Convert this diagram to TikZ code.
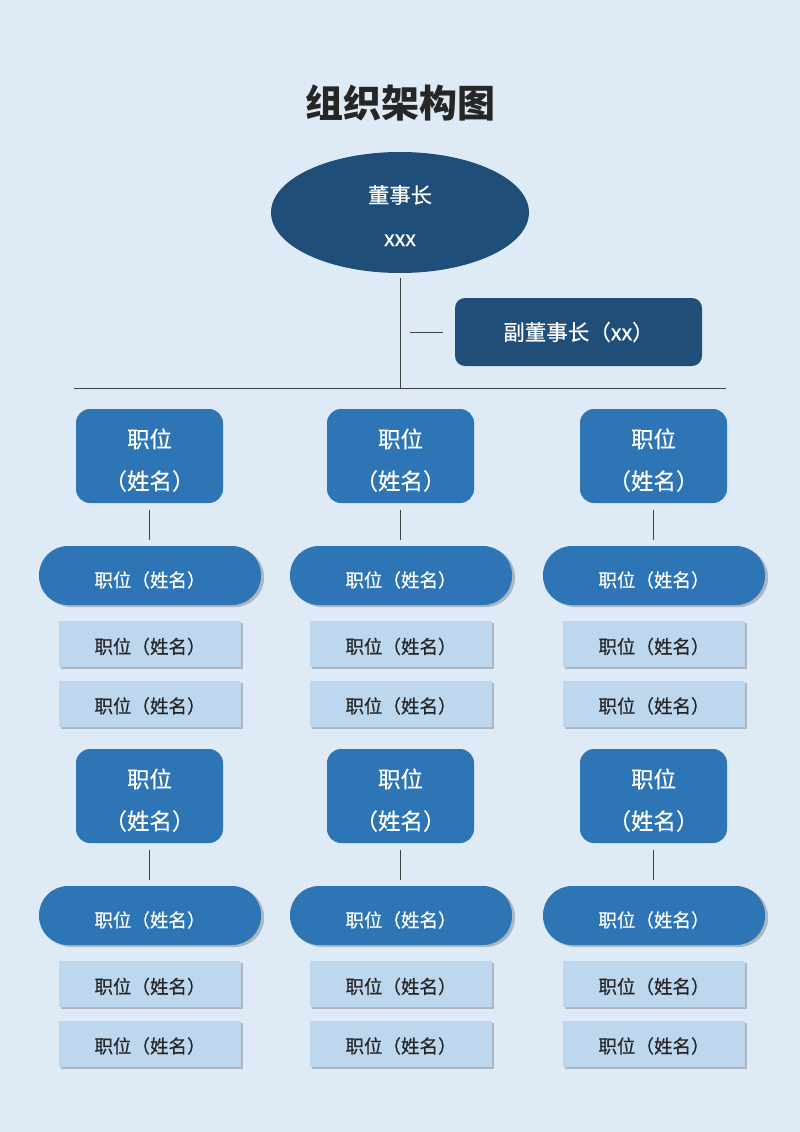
\documentclass[tikz,border=0pt]{standalone}
\usepackage{fontspec}
\setmainfont{Noto Sans CJK SC}
\newfontfamily\medfont[FakeBold=0.5]{Noto Sans CJK SC}
\usetikzlibrary{shapes.geometric,shadows}
\definecolor{bgc}{HTML}{DEEBF7}
\definecolor{navy}{HTML}{1F4E79}
\definecolor{midblue}{HTML}{2E75B6}
\definecolor{lightbox}{HTML}{BDD7EE}
\definecolor{linec}{HTML}{404040}
\definecolor{titlec}{HTML}{262626}
\newcommand{\twoline}[3]{\raisebox{#1}[0pt][0pt]{\begin{tabular}[t]{@{}c@{}}#2\\#3\end{tabular}}}
\begin{document}
\begin{tikzpicture}[x=1pt,y=-1pt,
  conn/.style={draw=linec,line width=0.9pt},
  chairbox/.style={ellipse,fill=navy,text=white,minimum width=258pt,minimum height=121pt,inner sep=0pt,font=\medfont\fontsize{21.3}{43}\selectfont},
  vicebox/.style={rectangle,rounded corners=10pt,fill=navy,text=white,minimum width=247pt,minimum height=68pt,inner sep=0pt,font=\medfont\fontsize{21.5}{24}\selectfont,text height=16.4pt,text depth=0pt},
  topbox/.style={rectangle,rounded corners=14pt,fill=midblue,text=white,minimum width=147pt,minimum height=94pt,inner sep=0pt,font=\medfont\fontsize{22.5}{42}\selectfont},
  pillbox/.style={rectangle,rounded corners=29pt,fill=midblue,text=white,minimum width=222pt,minimum height=59pt,inner sep=0pt,font=\medfont\fontsize{18.5}{20}\selectfont,text height=23pt,text depth=0pt,
    drop shadow={shadow xshift=3pt,shadow yshift=-2pt,opacity=0.22,fill=black}},
  subbox/.style={rectangle,fill=lightbox,text=titlec,minimum width=182pt,minimum height=46pt,inner sep=0pt,font=\medfont\fontsize{18.5}{20}\selectfont,text height=19pt,text depth=0pt,
    drop shadow={shadow xshift=2pt,shadow yshift=-2pt,opacity=0.22,fill=black}}
]
\fill[bgc] (0,0) rectangle (800,1132);
\useasboundingbox (0,0) rectangle (800,1132);

\node[text=titlec,font=\fontsize{38}{40}\selectfont\bfseries] (title) at (400,103) {组织架构图};

\node[chairbox] (chair) at (400,212.5) {\twoline{9.4pt}{董事长}{xxx}};
\node[vicebox] (vice) at (578.5,332) {副董事长（xx）};

\coordinate (hl) at (74,388);
\coordinate (hr) at (726,388);
\coordinate (hm) at (400,388);
\coordinate (vl) at (410,332);
\coordinate (vr) at (443,332);

\draw[conn] (hl) -- (hr);
\draw[conn,shorten <=5pt] (chair.south) -- (hm);
\draw[conn] (vl) -- (vr);

\foreach \c/\x in {1/150,2/401,3/654}{
  \foreach \r/\dy in {1/0,2/340}{
    \node[topbox] (top\c\r) at (\x-0.5,456+\dy) {\twoline{8.45pt}{职位}{（姓名）}};
    \node[pillbox] (pill\c\r) at (\x,575.5+\dy) {职位（姓名）};
    \node[subbox] (suba\c\r) at (\x,644+\dy) {职位（姓名）};
    \node[subbox] (subb\c\r) at (\x,703.5+\dy) {职位（姓名）};
    \draw[conn,shorten <=7pt,shorten >=6pt] (top\c\r.south) -- (top\c\r.south |- pill\c\r.north);
  }
}
\end{tikzpicture}
\end{document}
